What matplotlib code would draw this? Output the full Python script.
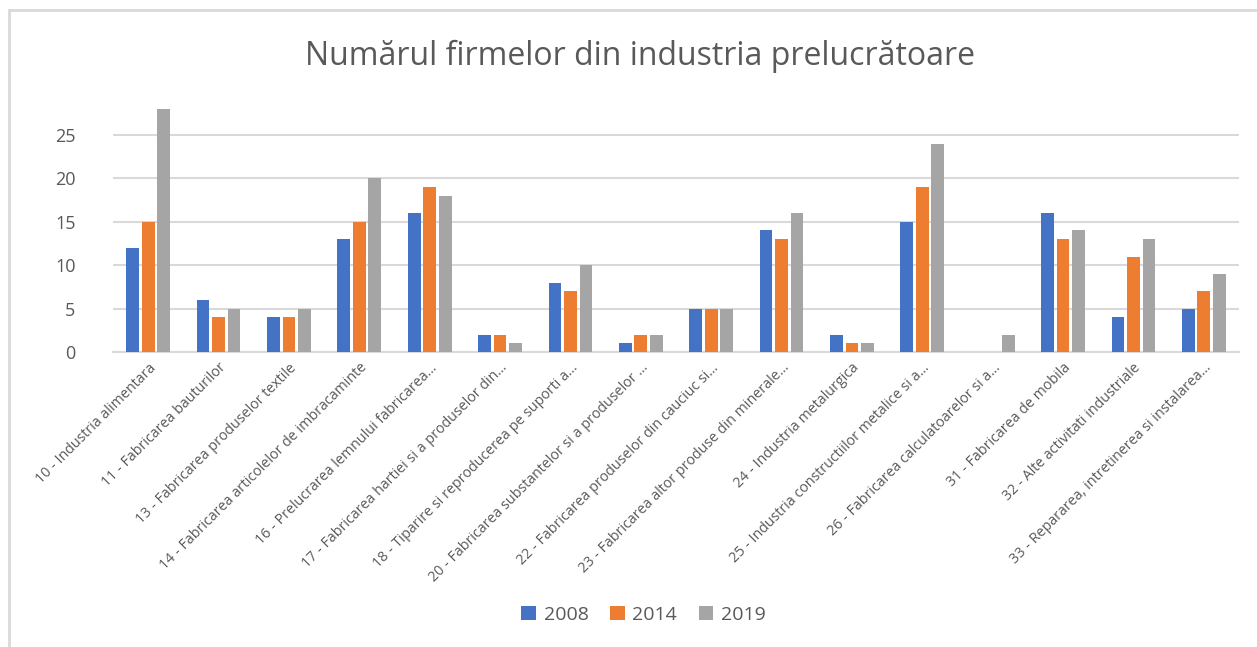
import matplotlib
matplotlib.use("Agg")
import matplotlib.pyplot as plt
import numpy as np
from matplotlib.patches import Rectangle

categories = [
    "10 - Industria alimentara",
    "11 - Fabricarea bauturilor",
    "13 - Fabricarea produselor textile",
    "14 - Fabricarea articolelor de imbracaminte",
    "16 - Prelucrarea lemnului fabricarea...",
    "17 - Fabricarea hartiei si a produselor din...",
    "18 - Tiparire si reproducerea pe suporti a...",
    "20 - Fabricarea substantelor si a produselor ...",
    "22 - Fabricarea produselor din cauciuc si...",
    "23 - Fabricarea altor produse din minerale...",
    "24 - Industria metalurgica",
    "25 - Industria constructiilor metalice si a...",
    "26 - Fabricarea calculatoarelor si a...",
    "31 - Fabricarea de mobila",
    "32 - Alte activitati industriale",
    "33 - Repararea, intretinerea si instalarea...",
]
years = ["2008", "2014", "2019"]
v2008 = [12, 6, 4, 13, 16, 2, 8, 1, 5, 14, 2, 15, 0, 16, 4, 5]
v2014 = [15, 4, 4, 15, 19, 2, 7, 2, 5, 13, 1, 19, 0, 13, 11, 7]
v2019 = [28, 5, 5, 20, 18, 1, 10, 2, 5, 16, 1, 24, 2, 14, 13, 9]
colors = ["#4472C4", "#ED7D31", "#A5A5A5"]

plt.rcParams["font.family"] = ["Open Sans", "DejaVu Sans"]
text_color = "#595959"

W, H = 1257, 647
fig = plt.figure(figsize=(W / 100, H / 100), dpi=100)
fig.patch.set_facecolor("white")

# chart area border (only left and top visible in the screenshot)
fig.patches.append(Rectangle((9 / W, -0.1), 1.2, 1 - 10 / H + 0.1, transform=fig.transFigure,
                             fill=False, edgecolor="#d9d9d9", linewidth=2))

ax = fig.add_axes([113 / W, 1 - 352 / H, (1239 - 113) / W, (352 - 91.6) / H])

x = np.arange(len(categories))
offs = [-0.22, 0.0, 0.22]
for vals, off, c, lab in zip([v2008, v2014, v2019], offs, colors, years):
    ax.bar(x + off, vals, width=0.18, color=c, label=lab, zorder=3)

ax.set_xlim(-0.5, len(categories) - 0.5)
ax.set_ylim(0, 30)
ax.set_yticks([0, 5, 10, 15, 20, 25])
ax.grid(axis="y", color="#d9d9d9", linewidth=1.5, zorder=0)
for s in ["top", "right", "left"]:
    ax.spines[s].set_visible(False)
ax.spines["bottom"].set_color("#d9d9d9")
ax.spines["bottom"].set_linewidth(1.5)
ax.tick_params(axis="y", length=0, pad=27, labelsize=13, labelcolor=text_color)
ax.tick_params(axis="x", length=0, pad=6, labelsize=10.3, labelcolor=text_color)
ax.set_xticks(x)
ax.set_xticklabels(categories, rotation=45, ha="right", rotation_mode="anchor")

fig.text(0.509, 1 - 56 / H, "Numărul firmelor din industria prelucrătoare",
         ha="center", va="center", fontsize=23, color=text_color)

fig.legend(loc="center", bbox_to_anchor=(0.512, 1 - 615 / H), ncol=3, frameon=False,
           fontsize=14, labelcolor=text_color, handlelength=0.75, handleheight=0.75,
           handletextpad=0.4, columnspacing=1.1)

fig.savefig("out.png", dpi=100)
